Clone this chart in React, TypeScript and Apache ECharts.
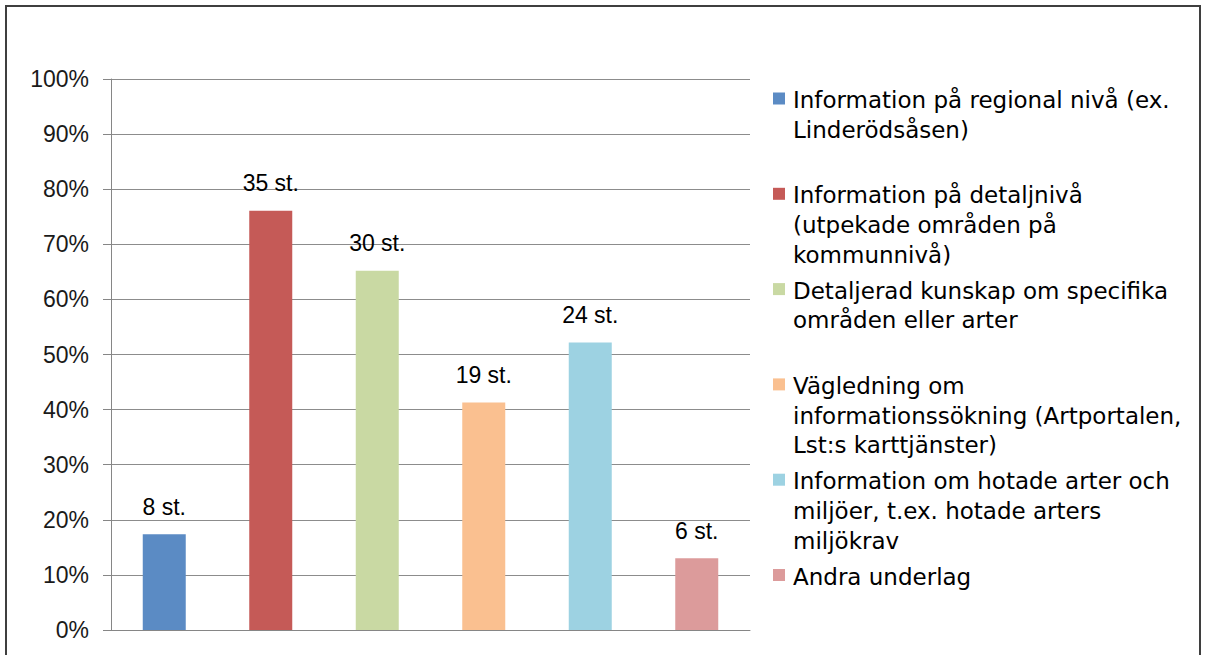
import React, { useEffect, useRef } from "react";
import * as echarts from "echarts";

const categories = [
  "Information på regional nivå (ex. Linderödsåsen)",
  "Information på detaljnivå (utpekade områden på kommunnivå)",
  "Detaljerad kunskap om specifika områden eller arter",
  "Vägledning om informationssökning (Artportalen, Lst:s karttjänster)",
  "Information om hotade arter och miljöer, t.ex. hotade arters miljökrav",
  "Andra underlag",
];
const legendLabels = [
  "Information på regional nivå (ex.\nLinderödsåsen)",
  "Information på detaljnivå\n(utpekade områden på\nkommunnivå)",
  "Detaljerad kunskap om specifika\nområden eller arter",
  "Vägledning om\ninformationssökning (Artportalen,\nLst:s karttjänster)",
  "Information om hotade arter och\nmiljöer, t.ex. hotade arters\nmiljökrav",
  "Andra underlag",
];
const counts = [8, 35, 30, 19, 24, 6];
const percents = [17.4, 76.1, 65.2, 41.3, 52.2, 13.0];
const colors = ["#5B8BC4", "#C55A57", "#C9D9A3", "#FAC090", "#9DD2E2", "#DC9B9B"];

export default function App() {
  const ref = useRef<HTMLDivElement>(null);
  useEffect(() => {
    if (!ref.current) return;
    const chart = echarts.init(ref.current, null, { renderer: "svg" });
    const legendGraphics: any[] = [];
    const startY = 100;
    const itemStep = 95.3;
    const lineH = 29.7;
    legendLabels.forEach((lab, i) => {
      const y0 = startY + i * itemStep;
      legendGraphics.push({
        type: "rect",
        shape: { x: 773, y: y0 - 7.5, width: 12, height: 12 },
        style: { fill: colors[i] },
      });
      lab.split("\n").forEach((line, j) => {
        legendGraphics.push({
          type: "text",
          x: 793,
          y: y0 + j * lineH,
          style: {
            text: line,
            fill: "#000",
            font: '23px "DejaVu Sans"',
            verticalAlign: "middle",
            align: "left",
          },
        });
      });
    });
    chart.setOption({
      animation: false,
      backgroundColor: "#fff",
      grid: { left: 111, right: 455, top: 79, bottom: 25, containLabel: false },
      xAxis: {
        type: "category",
        data: categories,
        axisLabel: { show: false },
        axisTick: { show: false },
        axisLine: { lineStyle: { color: "#868686", width: 1 } },
      },
      yAxis: {
        type: "value",
        min: 0,
        max: 100,
        interval: 10,
        axisLine: { show: true, lineStyle: { color: "#868686", width: 1 } },
        axisTick: { show: true, length: 8, lineStyle: { color: "#868686" } },
        splitLine: { lineStyle: { color: "#8C8C8C", width: 1 } },
        axisLabel: {
          formatter: "{value}%",
          color: "#1a1a1a",
          fontFamily: "Liberation Sans",
          fontSize: 23,
          margin: 22,
        },
      },
      series: [
        {
          type: "bar",
          barWidth: 43,
          data: percents.map((v, i) => ({ value: v, itemStyle: { color: colors[i] } })),
          label: {
            show: true,
            position: "top",
            distance: 16,
            color: "#000",
            fontFamily: "Liberation Sans",
            fontSize: 23,
            formatter: (p: any) => counts[p.dataIndex] + " st.",
          },
        },
      ],
      graphic: [
        {
          type: "rect",
          shape: { x: 6, y: 6, width: 1194, height: 720 },
          style: { fill: "none", stroke: "#3F3F3F", lineWidth: 2 },
          z: 10,
        },
        ...legendGraphics,
      ],
    });
    return () => chart.dispose();
  }, []);
  return (
    <div
      ref={ref}
      style={{ position: "fixed", left: 0, top: 0, width: 1205, height: 655 }}
    />
  );
}
